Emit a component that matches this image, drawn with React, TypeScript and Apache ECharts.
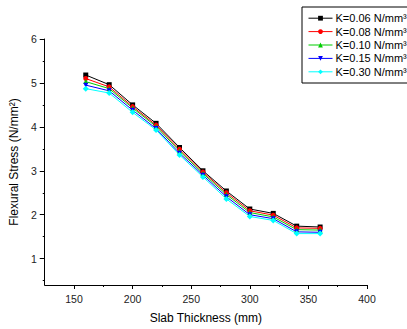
import React, { useEffect, useRef } from "react";
import * as echarts from "echarts";

const thickness = [160, 180, 200, 220, 240, 260, 280, 300, 320, 340, 360];
const k006 = [5.18, 4.96, 4.5, 4.08, 3.53, 3.0, 2.54, 2.13, 2.03, 1.74, 1.72];
const k008 = [5.1, 4.91, 4.46, 4.04, 3.49, 2.97, 2.5, 2.09, 1.99, 1.7, 1.69];
const k010 = [5.03, 4.87, 4.43, 4.01, 3.45, 2.94, 2.46, 2.05, 1.95, 1.66, 1.65];
const k015 = [4.95, 4.82, 4.38, 3.96, 3.4, 2.9, 2.41, 2.0, 1.91, 1.61, 1.6];
const k030 = [4.87, 4.77, 4.33, 3.93, 3.36, 2.86, 2.36, 1.96, 1.87, 1.57, 1.57];
const seriesNames = ["K=0.06 N/mm³", "K=0.08 N/mm³", "K=0.10 N/mm³", "K=0.15 N/mm³", "K=0.30 N/mm³"];
const xMajor = [150, 200, 250, 300, 350, 400];
const xMinor = [175, 225, 275, 325, 375];
const yMajor = [1, 2, 3, 4, 5, 6];
const yMinor = [0.5, 1.5, 2.5, 3.5, 4.5, 5.5];

const colors = ["#000000", "#ff0000", "#00cc00", "#0000ff", "#00ffff"];
const symbols = ["rect", "circle", "triangle", "path://M0,0 L10,0 L5,10 Z", "diamond"];

export default function App() {
  const ref = useRef<HTMLDivElement>(null);
  useEffect(() => {
    document.body.style.margin = "0";
    const chart = echarts.init(ref.current!, null, { renderer: "svg" });
    const all = [k006, k008, k010, k015, k030];
    const font = "Liberation Sans, Arial, sans-serif";
    const axisCommonX = { type: "value" as const, min: 125, max: 400, position: "bottom" as const };
    const axisCommonY = { type: "value" as const, min: 0.4, max: 6, position: "left" as const };
    chart.setOption({
      animation: false,
      grid: { left: 41, top: 39, right: 40, bottom: 40 },
      legend: {
        orient: "vertical",
        left: 302,
        top: 7,
        padding: [5, 6, 5, 6],
        borderColor: "#000",
        borderWidth: 1,
        itemWidth: 24,
        itemHeight: 6,
        itemGap: 1,
        lineStyle: { width: 1 },
        textStyle: { fontFamily: font, fontSize: 11, lineHeight: 12.4, color: "#000", padding: [0, 0, 0, -2] },
        data: seriesNames,
      },
      xAxis: [
        {
          ...axisCommonX,
          name: "Slab Thickness (mm)",
          nameLocation: "middle",
          nameGap: 27,
          nameTextStyle: { fontFamily: font, fontSize: 12, color: "#000" },
          splitLine: { show: false },
          axisLine: { show: true, onZero: false, lineStyle: { color: "#000", width: 1 } },
          axisTick: { show: true, length: 4, customValues: xMajor, lineStyle: { color: "#000" } },
          axisLabel: { customValues: xMajor, fontFamily: font, fontSize: 10.5, color: "#222", margin: 8 },
        },
        {
          ...axisCommonX,
          splitLine: { show: false },
          axisLine: { show: false, onZero: false },
          axisTick: { show: true, length: 2, customValues: xMinor, lineStyle: { color: "#000" } },
          axisLabel: { show: false },
        },
      ],
      yAxis: [
        {
          ...axisCommonY,
          name: "Flexural Stress (N/mm²)",
          nameLocation: "middle",
          nameGap: 20,
          nameTextStyle: { fontFamily: font, fontSize: 12, color: "#000" },
          splitLine: { show: false },
          axisLine: { show: true, onZero: false, lineStyle: { color: "#000", width: 1 } },
          axisTick: { show: true, length: 5, customValues: yMajor, lineStyle: { color: "#000" } },
          axisLabel: { customValues: yMajor, fontFamily: font, fontSize: 10.5, color: "#222", margin: 8 },
        },
        {
          ...axisCommonY,
          splitLine: { show: false },
          axisLine: { show: false, onZero: false },
          axisTick: { show: true, length: 2, customValues: yMinor, lineStyle: { color: "#000" } },
          axisLabel: { show: false },
        },
      ],
      series: all.map((vals, i) => ({
        name: seriesNames[i],
        type: "line",
        xAxisIndex: 0,
        yAxisIndex: 0,
        data: thickness.map((t, j) => [t, vals[j]]),
        symbol: symbols[i],
        symbolSize: i === 4 ? 6 : 5,
        showAllSymbol: true,
        itemStyle: { color: colors[i] },
        lineStyle: { color: colors[i], width: 1 },
        emphasis: { disabled: true },
      })),
    });
    return () => chart.dispose();
  }, []);
  return <div ref={ref} style={{ width: 407, height: 329 }} />;
}
